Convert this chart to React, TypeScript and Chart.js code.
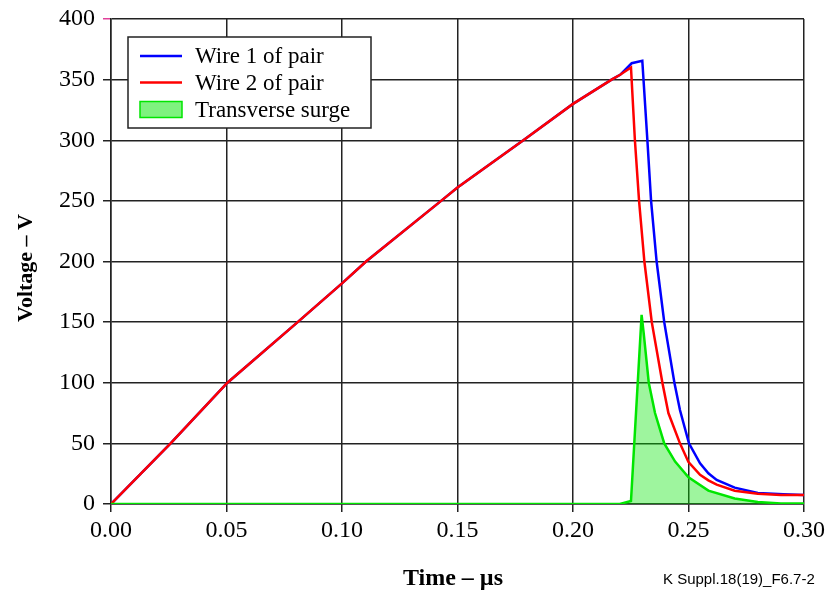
import React, { useEffect, useRef } from "react";
import { Chart, registerables } from "chart.js";

Chart.register(...registerables);

// Time axis (µs) and voltage (V) values
const wire1Time = [0, 0.0258, 0.0504, 0.0808, 0.1, 0.1104, 0.1429, 0.15, 0.1785, 0.2, 0.2167, 0.2204, 0.2254, 0.23, 0.2322, 0.2338, 0.2362, 0.2395, 0.2439, 0.2463, 0.2502, 0.255, 0.2586, 0.2622, 0.27, 0.28, 0.291, 0.3];
const wire1Volt = [0, 50, 100, 150, 182, 200, 250, 261, 300, 330, 350, 354, 363.5, 365.6, 300, 250, 200, 150, 100, 77.5, 50, 33.5, 25.3, 19.8, 13.5, 9, 8, 7.5];

const wire2Time = [0, 0.0258, 0.0504, 0.0808, 0.1, 0.1104, 0.1429, 0.15, 0.1785, 0.2, 0.2167, 0.2204, 0.2251, 0.2268, 0.2286, 0.2309, 0.2341, 0.2387, 0.2413, 0.2463, 0.25, 0.255, 0.2586, 0.2622, 0.27, 0.28, 0.29, 0.3];
const wire2Volt = [0, 50, 100, 150, 182, 200, 250, 261, 300, 330, 350, 354, 360, 300, 250, 200, 150, 100, 75, 50, 34.5, 24, 19.5, 16, 11, 8.5, 7.5, 7.5];

const surgeTime = [0, 0.2203, 0.2251, 0.2297, 0.2306, 0.2328, 0.2355, 0.2395, 0.2442, 0.25, 0.2586, 0.27, 0.28, 0.29, 0.3];
const surgeVolt = [0, 0, 2.5, 156, 141, 100, 75, 50, 35, 22, 11, 4.5, 1.7, 0.5, 0.5];

const seriesLabels = ["Wire 1 of pair", "Wire 2 of pair", "Transverse surge"];
const xTitle = "Time – µs";
const yTitle = "Voltage – V";
const footnote = "K Suppl.18(19)_F6.7-2";

const toPoints = (t: number[], v: number[]) => t.map((x, i) => ({ x, y: v[i] }));

const SERIF = "'Liberation Serif', 'Times New Roman', serif";

const overlayPlugin = {
  id: "overlay",
  afterDraw(chart: any) {
    const ctx = chart.ctx as CanvasRenderingContext2D;
    const area = chart.chartArea;
    ctx.save();
    // Legend box
    const bx = area.left + 17;
    const by = area.top + 18;
    const bw = 243;
    const bh = 91;
    ctx.fillStyle = "#ffffff";
    ctx.fillRect(bx, by, bw, bh);
    ctx.strokeStyle = "#222";
    ctx.lineWidth = 1.5;
    ctx.strokeRect(bx, by, bw, bh);
    const rows = [by + 19, by + 45.5, by + 72.5];
    const colors = ["#0000ff", "#ff0000"];
    ctx.font = `23px ${SERIF}`;
    ctx.textBaseline = "middle";
    ctx.textAlign = "left";
    for (let i = 0; i < 3; i++) {
      const y = rows[i];
      if (i < 2) {
        ctx.strokeStyle = colors[i];
        ctx.lineWidth = 2.5;
        ctx.beginPath();
        ctx.moveTo(bx + 12, y);
        ctx.lineTo(bx + 54, y);
        ctx.stroke();
      } else {
        ctx.fillStyle = "rgba(0,230,0,0.5)";
        ctx.fillRect(bx + 12, y - 8, 42, 16);
        ctx.strokeStyle = "#00e600";
        ctx.lineWidth = 1.5;
        ctx.strokeRect(bx + 12, y - 8, 42, 16);
      }
      ctx.fillStyle = "#000";
      ctx.fillText(seriesLabels[i], bx + 67, y + 1);
    }
    // Axis titles
    ctx.fillStyle = "#000";
    ctx.font = `bold 24px ${SERIF}`;
    ctx.textAlign = "center";
    ctx.textBaseline = "middle";
    ctx.fillText(xTitle, 453, 579);
    ctx.save();
    ctx.translate(26, 268);
    ctx.rotate(-Math.PI / 2);
    ctx.font = `bold 22px ${SERIF}`;
    ctx.fillText(yTitle, 0, 0);
    ctx.restore();
    // Footnote
    ctx.font = "15px 'Liberation Sans', Arial, sans-serif";
    ctx.textAlign = "left";
    ctx.fillText(footnote, 663, 580);
    ctx.restore();
  },
};

export default function App() {
  const canvasRef = useRef<HTMLCanvasElement | null>(null);

  useEffect(() => {
    if (!canvasRef.current) return;
    const tickFont = { family: SERIF, size: 24 };
    const chart = new Chart(canvasRef.current, {
      type: "line",
      data: {
        datasets: [
          {
            label: seriesLabels[0],
            data: toPoints(wire1Time, wire1Volt),
            borderColor: "#0000ff",
            borderWidth: 2.5,
            pointRadius: 0,
            fill: false,
            tension: 0,
            order: 2,
          },
          {
            label: seriesLabels[1],
            data: toPoints(wire2Time, wire2Volt),
            borderColor: "#ff0000",
            borderWidth: 2.5,
            pointRadius: 0,
            fill: false,
            tension: 0,
            order: 1,
          },
          {
            label: seriesLabels[2],
            data: toPoints(surgeTime, surgeVolt),
            borderColor: "#00e600",
            backgroundColor: "rgba(0,230,0,0.38)",
            borderWidth: 2.5,
            pointRadius: 0,
            fill: "origin",
            tension: 0,
            order: 0,
          },
        ],
      },
      options: {
        animation: false,
        responsive: false,
        devicePixelRatio: 1,
        layout: { padding: { top: 19, right: 24, left: 0, bottom: 0 } },
        plugins: { legend: { display: false }, tooltip: { enabled: false } },
        scales: {
          x: {
            type: "linear",
            min: 0,
            max: 0.3,
            afterFit: (s: any) => {
              s.height = 89;
              s.paddingLeft = 0;
              s.paddingRight = 0;
            },
            ticks: {
              stepSize: 0.05,
              color: "#000",
              font: tickFont,
              padding: 4,
              maxRotation: 0,
              callback: (v: any) => Number(v).toFixed(2),
            },
            grid: { color: "#222", lineWidth: 1.5, tickLength: 8, tickColor: "#222" },
            border: { color: "#222", width: 1.5 },
          },
          y: {
            type: "linear",
            min: 0,
            max: 400,
            afterFit: (s: any) => {
              s.width = 111;
              s.paddingTop = 0;
              s.paddingBottom = 0;
            },
            ticks: {
              stepSize: 50,
              color: "#000",
              font: tickFont,
              padding: 8,
            },
            grid: {
              color: "#222",
              lineWidth: 1.5,
              tickLength: 8,
              tickColor: (c: any) => (c.tick && c.tick.value === 400 ? "#e0409a" : "#222"),
            },
            border: { color: "#222", width: 1.5 },
          },
        },
      },
      plugins: [overlayPlugin],
    } as any);
    return () => chart.destroy();
  }, []);

  return (
    <div style={{ position: "fixed", left: 0, top: 0, width: 828, height: 593, background: "#fff" }}>
      <canvas ref={canvasRef} width={828} height={593} style={{ width: 828, height: 593, display: "block" }} />
    </div>
  );
}
